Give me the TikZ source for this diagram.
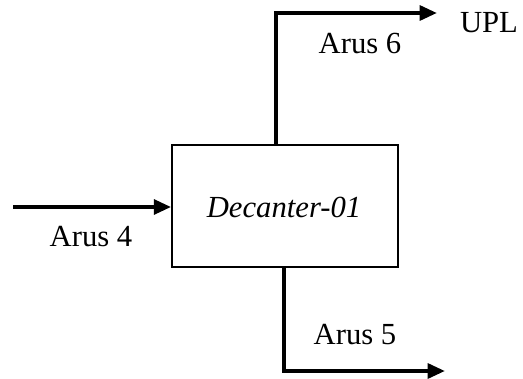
\documentclass[tikz,border=0pt]{standalone}
\usepackage{fontspec}
\setmainfont{Liberation Serif}
\usetikzlibrary{arrows.meta}
\begin{document}
\begin{tikzpicture}[x=0.75pt,y=-0.75pt,
  lbl/.style={font=\fontsize{23}{26}\selectfont, inner sep=0pt, anchor=base},
  flow/.style={line width=3pt, -{Triangle[length=13pt,width=11pt]}},
  unit/.style={draw, line width=1.3pt, minimum width=169.5pt, minimum height=91pt, inner sep=0pt}]
\useasboundingbox (0,0) rectangle (523,378);
\node[unit] (dec) at (285,206) {};
\node[lbl, font=\fontsize{23}{26}\selectfont\itshape] (dectxt) at (284,217) {Decanter-01};
\coordinate (in4) at (13,207);
\coordinate (top6) at (276,13);
\coordinate (end6) at (437,13);
\coordinate (bot5) at (284,371);
\coordinate (end5) at (445,371);
\draw[flow] (in4) -- (in4 -| dec.west);
\draw[flow, line cap=butt] (dec.north -| top6) -- (top6) -- (end6);
\draw[flow] (dec.south -| bot5) -- (bot5) -- (end5);
\node[lbl] (upl) at (489,33) {UPL};
\node[lbl] (a6) at (360,54) {Arus 6};
\node[lbl] (a4) at (91,246) {Arus 4};
\node[lbl] (a5) at (355,344) {Arus 5};
\end{tikzpicture}
\end{document}
